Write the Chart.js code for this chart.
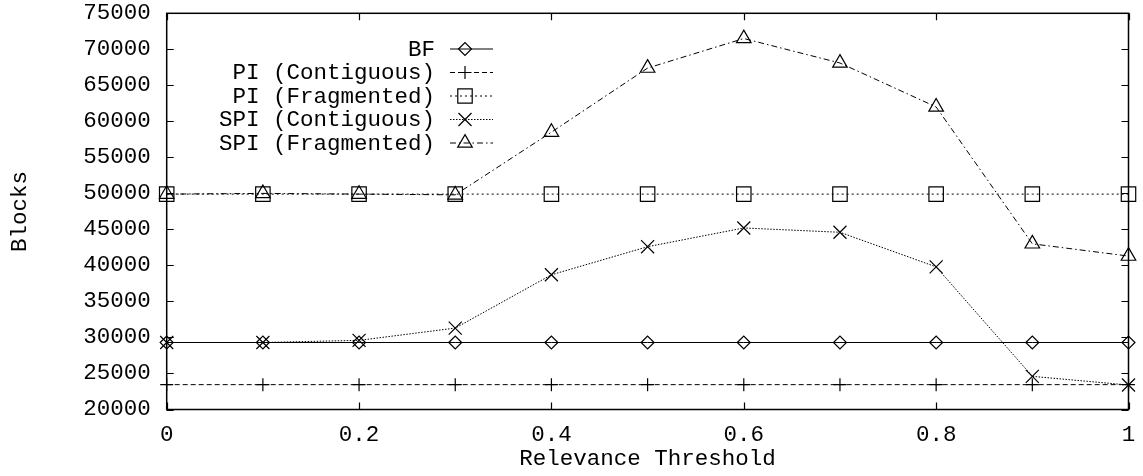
<!DOCTYPE html>
<html>
<head>
<meta charset="utf-8">
<title>Blocks vs Relevance Threshold</title>
<script src="https://cdn.jsdelivr.net/npm/chart.js@4.4.0/dist/chart.umd.min.js"></script>
<style>
  html, body { margin: 0; padding: 0; background: #fff; }
  #wrap { width: 1143px; height: 476px; }
</style>
</head>
<body>
<div id="wrap"><canvas id="blocksChart" width="1143" height="476"></canvas></div>
<script>
// relevance thresholds on the x axis
const thresholds = [0, 0.1, 0.2, 0.3, 0.4, 0.5, 0.6, 0.7, 0.8, 0.9, 1];

// blocks read per method
const bf        = [29300, 29300, 29300, 29300, 29300, 29300, 29300, 29300, 29300, 29300, 29300];
const piContig  = [23450, 23450, 23450, 23450, 23450, 23450, 23450, 23450, 23450, 23450, 23450];
const piFrag    = [49900, 49900, 49900, 49900, 49900, 49900, 49900, 49900, 49900, 49900, 49900];
const spiContig = [29300, 29300, 29600, 31300, 38700, 42600, 45200, 44600, 39800, 24600, 23400];
const spiFrag   = [49900, 50000, 49900, 49800, 58500, 67400, 71500, 68100, 62000, 43000, 41300];

const seriesNames = ['BF', 'PI (Contiguous)', 'PI (Fragmented)', 'SPI (Contiguous)', 'SPI (Fragmented)'];

const xTicks = [0, 0.2, 0.4, 0.6, 0.8, 1];
const xTickLabels = ['0', '0.2', '0.4', '0.6', '0.8', '1'];
const yTicks = [20000, 25000, 30000, 35000, 40000, 45000, 50000, 55000, 60000, 65000, 70000, 75000];
const yTickLabels = ['20000', '25000', '30000', '35000', '40000', '45000', '50000', '55000', '60000', '65000', '70000', '75000'];

const FONT_FAMILY = "'Liberation Mono', 'Courier New', monospace";
const FONT_SIZE = 22.5;
const INK = '#000';

const toPoints = (ys) => ys.map((y, i) => ({ x: thresholds[i], y }));

function series(label, values, dash, style, radius) {
  return {
    label,
    data: toPoints(values),
    borderColor: INK,
    borderWidth: 1,
    borderDash: dash,
    pointStyle: style,
    pointRadius: radius,
    pointHoverRadius: radius,
    pointBorderColor: INK,
    pointBackgroundColor: 'rgba(0,0,0,0)',
    pointBorderWidth: 1.2,
    fill: false,
    tension: 0,
    clip: false
  };
}

// box around the plot with inward ticks on all four sides
const plotFrame = {
  id: 'plotFrame',
  afterDatasetsDraw(chart) {
    const { ctx, chartArea: a, scales: { x, y } } = chart;
    const len = 7;
    ctx.save();
    ctx.strokeStyle = INK;
    ctx.lineWidth = 1.5;
    ctx.setLineDash([]);
    ctx.strokeRect(a.left, a.top, a.right - a.left, a.bottom - a.top);
    ctx.lineWidth = 1.2;
    ctx.beginPath();
    yTicks.forEach(v => {
      const py = Math.round(y.getPixelForValue(v)) + 0.5;
      ctx.moveTo(a.left, py); ctx.lineTo(a.left + len, py);
      ctx.moveTo(a.right, py); ctx.lineTo(a.right - len, py);
    });
    xTicks.forEach(v => {
      const px = Math.round(x.getPixelForValue(v)) + 0.5;
      ctx.moveTo(px, a.bottom); ctx.lineTo(px, a.bottom - len);
      ctx.moveTo(px, a.top); ctx.lineTo(px, a.top + len);
    });
    ctx.stroke();
    ctx.restore();
  }
};

// key: right-aligned names followed by a line sample with its marker
const lineKey = {
  id: 'lineKey',
  afterDraw(chart) {
    const { ctx } = chart;
    const textRight = 435, lineFrom = 450, lineTo = 493, markX = 465;
    const top = 49, step = 23.5;
    ctx.save();
    ctx.font = `${FONT_SIZE}px ${FONT_FAMILY}`;
    ctx.textAlign = 'right';
    ctx.textBaseline = 'middle';
    chart.data.datasets.forEach((ds, i) => {
      const yy = top + i * step;
      ctx.fillStyle = INK;
      ctx.fillText(ds.label, textRight, yy + 1);
      ctx.strokeStyle = ds.borderColor;
      ctx.lineWidth = ds.borderWidth;
      ctx.setLineDash(ds.borderDash || []);
      ctx.beginPath();
      ctx.moveTo(lineFrom, yy);
      ctx.lineTo(lineTo, yy);
      ctx.stroke();
      ctx.setLineDash([]);
      ctx.lineWidth = ds.pointBorderWidth;
      ctx.fillStyle = 'rgba(0,0,0,0)';
      Chart.helpers.drawPoint(ctx, {
        pointStyle: ds.pointStyle,
        radius: ds.pointRadius,
        rotation: 0,
        borderWidth: ds.pointBorderWidth
      }, markX, yy);
    });
    ctx.restore();
  }
};

const tickFont = { family: FONT_FAMILY, size: FONT_SIZE };

new Chart(document.getElementById('blocksChart'), {
  type: 'line',
  data: {
    datasets: [
      series(seriesNames[0], bf, [], 'rectRot', 6.5),
      series(seriesNames[1], piContig, [5, 3], 'cross', 6.5),
      series(seriesNames[2], piFrag, [2, 3], 'rect', 10.2),
      series(seriesNames[3], spiContig, [1.5, 1.5], 'crossRot', 9.2),
      series(seriesNames[4], spiFrag, [6, 3, 1.5, 3], 'triangle', 8.4)
    ]
  },
  options: {
    responsive: false,
    animation: false,
    events: [],
    layout: { padding: { top: 13.3, right: 14.5, left: 0, bottom: 0 } },
    plugins: {
      legend: { display: false },
      tooltip: { enabled: false }
    },
    scales: {
      x: {
        type: 'linear',
        min: 0,
        max: 1,
        afterBuildTicks: (s) => { s.ticks = xTicks.map(v => ({ value: v })); },
        afterFit: (s) => { s.height = 66.5; s.paddingLeft = 0; s.paddingRight = 0; },
        grid: { display: false, drawTicks: false },
        border: { display: false },
        ticks: {
          font: tickFont,
          color: INK,
          padding: 12,
          maxRotation: 0,
          autoSkip: false,
          callback: (v, i) => xTickLabels[i]
        },
        title: {
          display: true,
          text: 'Relevance Threshold',
          font: tickFont,
          color: INK,
          padding: { top: 0, bottom: 3 }
        }
      },
      y: {
        type: 'linear',
        min: 20000,
        max: 75000,
        afterBuildTicks: (s) => { s.ticks = yTicks.map(v => ({ value: v })); },
        afterFit: (s) => { s.width = 166.7; s.paddingTop = 0; s.paddingBottom = 0; },
        grid: { display: false, drawTicks: false },
        border: { display: false },
        ticks: {
          font: tickFont,
          color: INK,
          padding: 16,
          autoSkip: false,
          callback: (v, i) => yTickLabels[i]
        },
        title: {
          display: true,
          text: 'Blocks',
          font: tickFont,
          color: INK,
          padding: { top: 7, bottom: 0 }
        }
      }
    }
  },
  plugins: [plotFrame, lineKey]
});
</script>
</body>
</html>
